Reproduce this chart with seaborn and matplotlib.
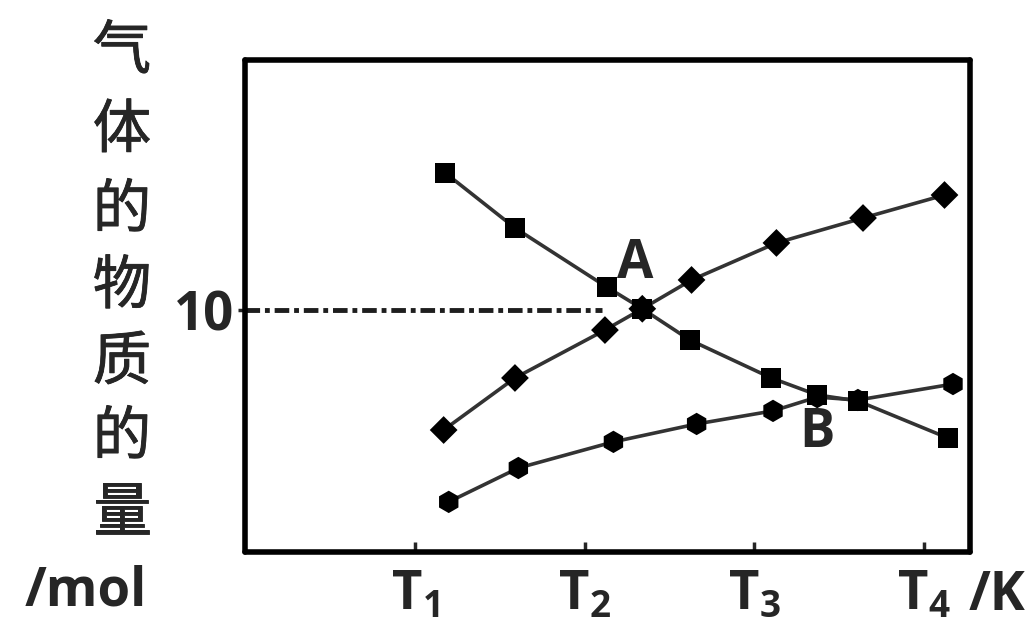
import numpy as np
import pandas as pd
import matplotlib
matplotlib.use("Agg")
import matplotlib.pyplot as plt
import matplotlib.patheffects as pe
import seaborn as sns

# ---------------- data ----------------
tick_pos = [1, 2, 3, 4]
tick_labels = [r"$\mathbf{T_1}$", r"$\mathbf{T_2}$", r"$\mathbf{T_3}$", r"$\mathbf{T_4}$"]

dec_x = [1.18, 1.59, 2.13, 2.34, 2.62, 3.10, 3.37, 3.61, 4.14]
dec_y = [15.66, 13.39, 10.95, 10.05, 8.76, 7.19, 6.49, 6.24, 4.71]

inc_x = [1.17, 1.59, 2.12, 2.34, 2.63, 3.13, 3.64, 4.12]
inc_y = [5.04, 7.19, 9.17, 10.05, 11.24, 12.77, 13.80, 14.75]

low_x = [1.20, 1.61, 2.17, 2.66, 3.11, 3.37, 3.61, 4.17]
low_y = [2.07, 3.47, 4.55, 5.29, 5.83, 6.40, 6.28, 6.94]

ref_value = 10
ref_x = [0, 2.1]
label_A = ("A", 2.30, 11.9)
label_B = ("B", 3.37, 4.9)
ylabel_chars = ["气", "体", "的", "物", "质", "的", "量"]

df = pd.concat([
    pd.DataFrame({"T": dec_x, "n": dec_y, "series": "dec"}),
    pd.DataFrame({"T": inc_x, "n": inc_y, "series": "inc"}),
    pd.DataFrame({"T": low_x, "n": low_y, "series": "low"}),
], ignore_index=True)

# ---------------- style ----------------
sns.set_theme(style="white")
plt.rcParams["font.family"] = ["Open Sans", "DejaVu Sans"]
plt.rcParams["mathtext.fontset"] = "custom"
plt.rcParams["mathtext.bf"] = "Open Sans:bold"
plt.rcParams["mathtext.rm"] = "Open Sans"

fig = plt.figure(figsize=(10.32, 6.24), dpi=100)
fig.patch.set_facecolor("white")
ax = fig.add_axes([0.2374, 0.1154, 0.7025, 0.7885])

# reference dashed line at 10
ax.plot(ref_x, [ref_value, ref_value], color="#1e1e1e", lw=3.5,
        linestyle=(0, (3, 1, 1, 1)), zorder=1)

sns.lineplot(data=df, x="T", y="n", units="series", estimator=None, sort=False,
             color="#333333", lw=2.6, ax=ax, legend=False, zorder=2)
sns.scatterplot(data=df, x="T", y="n", style="series",
                markers={"dec": "s", "inc": "D", "low": "h"},
                size="series", sizes={"dec": 210, "inc": 200, "low": 260},
                color="black", edgecolor="black", linewidth=0,
                ax=ax, legend=False, zorder=3)

ax.set_xlim(0, 4.27)
ax.set_ylim(0, 20.33)
ax.set_xticks(tick_pos)
ax.set_xticklabels(tick_labels, fontsize=38)
ax.set_yticks([ref_value])
ax.set_yticklabels(["10"], fontsize=38, fontweight="bold")
ax.tick_params(axis="x", direction="in", length=7, width=2.5, pad=12, bottom=True)
ax.tick_params(axis="y", direction="out", length=5, width=2.5, pad=3, left=True)
ax.set_xlabel("")
ax.set_ylabel("")

for sp in ax.spines.values():
    sp.set_visible(True)
    sp.set_color("black")
    sp.set_linewidth(4)
    sp.set_capstyle("round")
    sp.set_joinstyle("round")

for txt, x, y in (label_A, label_B):
    ax.text(x, y, txt, fontsize=38, fontweight="bold", ha="center", va="center", zorder=4)

# y axis label, stacked characters
ys = [52, 131, 211, 287, 363, 438, 514]
for ch, py in zip(ylabel_chars, ys):
    fig.text(122 / 1032, 1 - py / 624, ch, fontsize=42, fontweight="normal",
             ha="center", va="center",
             family=["Noto Sans CJK SC", "DejaVu Sans"],
             path_effects=[pe.withStroke(linewidth=0.6, foreground="#222222")])
fig.text(86 / 1032, 1 - 592 / 624, "/mol", fontsize=38, fontweight="bold",
         ha="center", va="center")
fig.text(997 / 1032, 1 - 596 / 624, "/K", fontsize=38, fontweight="bold",
         ha="center", va="center")

fig.savefig("out.png", dpi=100, facecolor="white")
